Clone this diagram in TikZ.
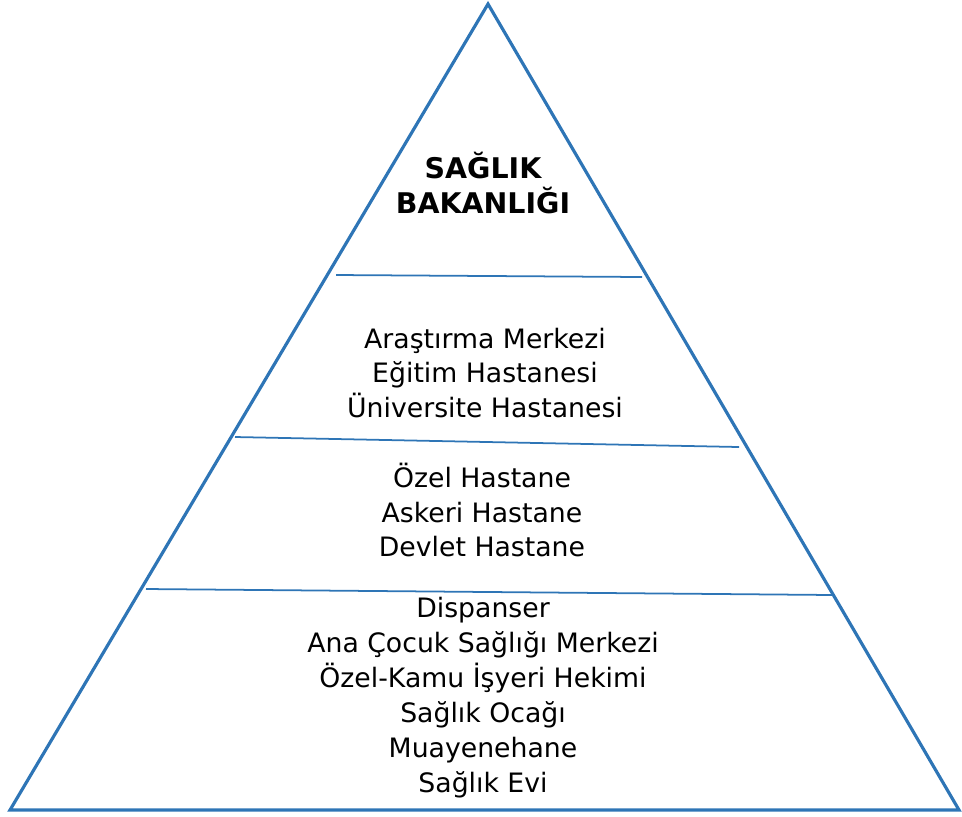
\documentclass[tikz,border=0pt]{standalone}
\usepackage{fontspec}
\setmainfont{DejaVu Sans}
\usepackage{tikz}
\usetikzlibrary{positioning}
\definecolor{pyrblue}{RGB}{46,117,182}

\begin{document}
\begin{tikzpicture}[x=0.02cm,y=-0.02cm]\tikzstyle{every node}=[font=\fontsize{15.2}{19.9}\selectfont]
\tikzstyle{level}=[align=center, inner sep=0pt, text=black]
\tikzstyle{sep}=[line width=1pt, color=pyrblue]
\useasboundingbox (0,0) rectangle (962,816);
% corners of the pyramid
\coordinate (top) at (488,4);
\coordinate (bl) at (10,810);
\coordinate (br) at (959,810);
\draw[line width=1.8pt, color=pyrblue, line join=miter] (top) -- (br) -- (bl) -- cycle;
% separators between levels
\coordinate (s1l) at (336,275); \coordinate (s1r) at (642,277);
\coordinate (s2l) at (235,437); \coordinate (s2r) at (739,447);
\coordinate (s3l) at (146,589); \coordinate (s3r) at (833,595);
\draw[sep] (s1l) -- (s1r);
\draw[sep] (s2l) -- (s2r);
\draw[sep] (s3l) -- (s3r);
% texts of the levels
\node[level, font=\fontsize{16.2}{19.9}\selectfont\bfseries] (bakanlik) at (483,183) {SAĞLIK\\BAKANLIĞI};
\node[level] (ucuncu) at (485,373) {Araştırma Merkezi\\Eğitim Hastanesi\\Üniversite Hastanesi};
\node[level] (ikinci) at (482,510) {Özel Hastane\\Askeri Hastane\\Devlet Hastane};
\node[level] (birinci) at (483,698) {Dispanser\\Ana Çocuk Sağlığı Merkezi\\Özel-Kamu İşyeri Hekimi\\Sağlık Ocağı\\Muayenehane\\Sağlık Evi};
\end{tikzpicture}
\end{document}
